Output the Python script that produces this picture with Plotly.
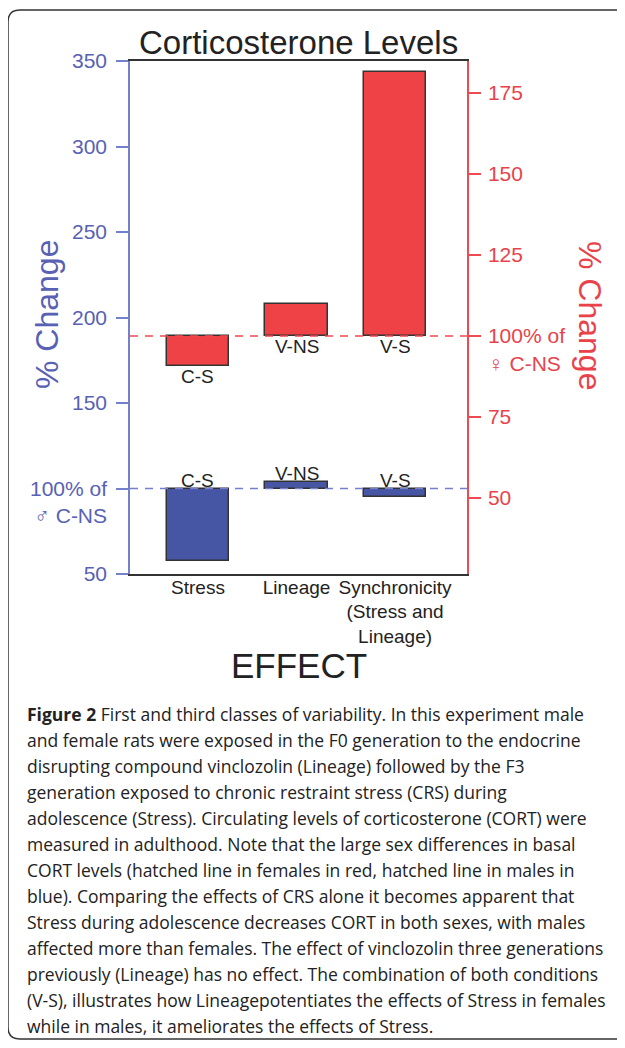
import plotly.graph_objects as go

# ---------------- data ----------------
categories = ["Stress", "Lineage", "Synchronicity<br>(Stress and<br>Lineage)"]
bar_labels = ["C-S", "V-NS", "V-S"]
male_pct = [57.6, 103.9, 94.9]      # left axis (blue), % of male C-NS
female_pct = [90.6, 109.8, 181.5]   # right axis (red), % of female C-NS
baseline = 100

left_tickvals = [50, 100, 150, 200, 250, 300, 350]
left_ticktext = ["50", " <br>100% of<br>\u2642 C-NS", "150", "200", "250", "300", "350"]
right_tickvals = [50, 75, 100, 125, 150, 175]
right_ticktext = ["50", "75", " <br>100% of<br>\u2640 C-NS", "125", "150", "175"]

title_text = "Corticosterone Levels"
y_title = "% Change"
x_title = "EFFECT"

caption_lines = [
    "<b>Figure 2</b> First and third classes of variability. In this experiment male",
    "and female rats were exposed in the F0 generation to the endocrine",
    "disrupting compound vinclozolin (Lineage) followed by the F3",
    "generation exposed to chronic restraint stress (CRS) during",
    "adolescence (Stress). Circulating levels of corticosterone (CORT) were",
    "measured in adulthood. Note that the large sex differences in basal",
    "CORT levels (hatched line in females in red, hatched line in males in",
    "blue). Comparing the effects of CRS alone it becomes apparent that",
    "Stress during adolescence decreases CORT in both sexes, with males",
    "affected more than females. The effect of vinclozolin three generations",
    "previously (Lineage) has no effect. The combination of both conditions",
    "(V-S), illustrates how Lineagepotentiates the effects of Stress in females",
    "while in males, it ameliorates the effects of Stress.",
]

# ---------------- style ----------------
OFF = 8                      # page body margin
W, H = 625 - 2 * OFF, 1048 - 2 * OFF
PL, PR, PT, PB = 130, 467, 61, 574   # plot area in page pixels
BLUE_BAR = "#4755a5"
RED_BAR = "#ef4247"
BLUE_TXT = "#5861b3"
RED_TXT = "#e8434b"
BLUE_LINE = "#7480cc"
RED_LINE = "#ee4a51"
DARK = "#222222"
FONT = "Liberation Sans, Arial, sans-serif"


def px2x(px):
    return (px - PL) / (PR - PL)


def px2y(py):
    return (PB - py) / (PB - PT)


fig = go.Figure()

fig.add_trace(go.Bar(
    x=categories, y=[v - baseline for v in male_pct], base=baseline,
    width=0.63, marker=dict(color=BLUE_BAR, line=dict(color="#333333", width=1.5)),
    yaxis="y", name="male", showlegend=False,
))
fig.add_trace(go.Bar(
    x=categories, y=[v - baseline for v in female_pct], base=baseline,
    width=0.63, marker=dict(color=RED_BAR, line=dict(color="#333333", width=1.5)),
    yaxis="y2", name="female", showlegend=False,
))

annotations = []
# bar labels
for cat, lab, m, f in zip(categories, bar_labels, male_pct, female_pct):
    annotations.append(dict(x=cat, y=max(m, baseline), xref="x", yref="y", text=lab,
                            showarrow=False, xanchor="center", yanchor="bottom", yshift=-4,
                            font=dict(family=FONT, size=19, color=DARK)))
    annotations.append(dict(x=cat, y=min(f, baseline), xref="x", yref="y2", text=lab,
                            showarrow=False, xanchor="center", yanchor="top", yshift=2,
                            font=dict(family=FONT, size=19, color=DARK)))

# titles
annotations.append(dict(x=0.5, y=px2y(43), xref="paper", yref="paper", text=title_text,
                        showarrow=False, xanchor="center", yanchor="middle",
                        font=dict(family=FONT, size=33, color=DARK)))
annotations.append(dict(x=px2x(47), y=px2y(315), xref="paper", yref="paper", text=y_title,
                        showarrow=False, textangle=-90, xanchor="center", yanchor="middle",
                        font=dict(family=FONT, size=32, color=BLUE_TXT)))
annotations.append(dict(x=px2x(590), y=px2y(315), xref="paper", yref="paper", text=y_title,
                        showarrow=False, textangle=90, xanchor="center", yanchor="middle",
                        font=dict(family=FONT, size=32, color=RED_TXT)))
annotations.append(dict(x=0.5, y=px2y(665), xref="paper", yref="paper", text=x_title,
                        showarrow=False, xanchor="center", yanchor="middle",
                        font=dict(family=FONT, size=35, color=DARK)))

# caption
for i, line in enumerate(caption_lines):
    annotations.append(dict(x=px2x(25), y=px2y(714 + 26 * i), xref="paper", yref="paper",
                            text=line, showarrow=False, xanchor="left", yanchor="middle",
                            font=dict(family="Open Sans, sans-serif", size=17.5, color=DARK)))

# border (rounded rect, right side beyond page)
L, T, B, R, r = 8, 10, 1039, 660, 12
path = (f"M {px2x(R)},{px2y(T)} L {px2x(L + r)},{px2y(T)} "
        f"Q {px2x(L)},{px2y(T)} {px2x(L)},{px2y(T + r)} "
        f"L {px2x(L)},{px2y(B - r)} "
        f"Q {px2x(L)},{px2y(B)} {px2x(L + r)},{px2y(B)} "
        f"L {px2x(R)},{px2y(B)}")

shapes = [
    dict(type="line", xref="paper", yref="y", x0=0, x1=1, y0=baseline, y1=baseline,
         line=dict(color=BLUE_LINE, width=1.5, dash="8px,7px")),
    dict(type="line", xref="paper", yref="y2", x0=0, x1=1.03, y0=baseline, y1=baseline,
         line=dict(color=RED_LINE, width=1.5, dash="8px,7px")),
    dict(type="path", xref="paper", yref="paper", path=path,
         line=dict(color="#333333", width=1.5)),
]

fig.update_layout(
    width=W, height=H,
    margin=dict(l=PL - OFF, r=W - (PR - OFF), t=PT - OFF, b=H - (PB - OFF), autoexpand=False),
    paper_bgcolor="white", plot_bgcolor="white",
    barmode="overlay", bargap=0,
    showlegend=False,
    annotations=annotations,
    shapes=shapes,
    xaxis=dict(range=[-0.69, 2.73], showline=True, linecolor="#333333", linewidth=1.5,
               mirror=True, ticks="", showgrid=False, zeroline=False,
               ticklabelstandoff=-5,
               tickfont=dict(family=FONT, size=19, color=DARK)),
    yaxis=dict(range=[50, 350], tickvals=left_tickvals, ticktext=left_ticktext,
               showline=True, linecolor=BLUE_LINE, linewidth=1.5, ticks="outside",
               ticklen=12, tickwidth=1.5, tickcolor=BLUE_LINE, showgrid=False,
               zeroline=False, ticklabelstandoff=5,
               tickfont=dict(family=FONT, size=21, color=BLUE_TXT)),
    yaxis2=dict(range=[26.5, 184.9], tickvals=right_tickvals, ticktext=right_ticktext,
                overlaying="y", side="right", anchor="x",
                showline=True, linecolor=RED_LINE, linewidth=1.5, ticks="outside",
                ticklen=12, tickwidth=1.5, tickcolor=RED_LINE, showgrid=False,
                zeroline=False, ticklabelstandoff=3,
                tickfont=dict(family=FONT, size=21, color=RED_TXT)),
)

fig.write_html("out.html")
